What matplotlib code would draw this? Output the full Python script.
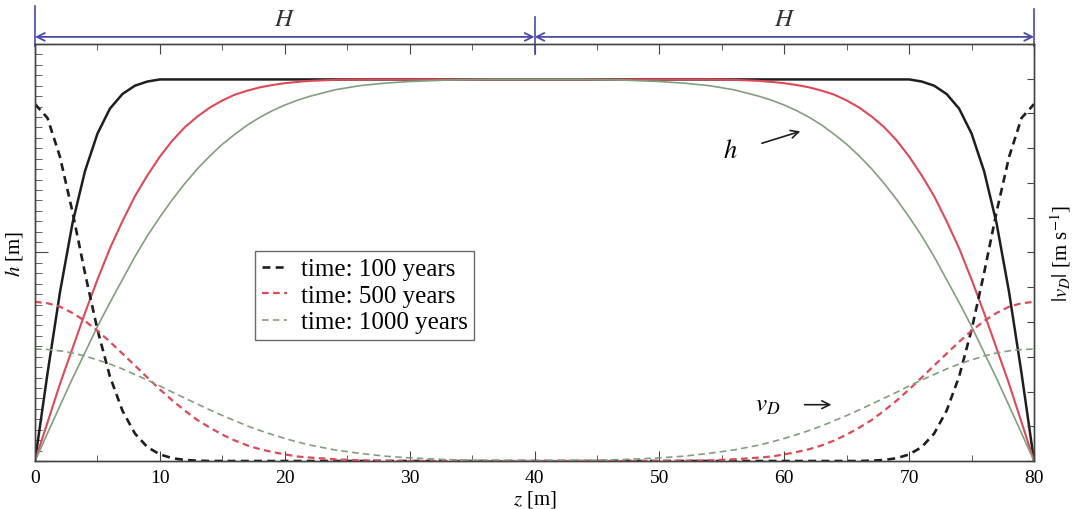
import numpy as np
import matplotlib
matplotlib.use("Agg")
import matplotlib.pyplot as plt
from matplotlib.ticker import MultipleLocator, NullFormatter

plt.rcParams['font.family'] = ['Liberation Serif', 'DejaVu Serif']
plt.rcParams['mathtext.fontset'] = 'stix'

# positions along the domain [m]
z = [0, 1, 2, 3, 4, 5, 6, 7, 8, 9, 10, 11, 12, 13, 14, 15, 16, 17, 18, 19, 20, 21,
     22, 24, 26, 28, 30, 33, 36, 40, 44, 47, 50, 52, 54, 56, 58,
     59, 60, 61, 62, 63, 64, 65, 66, 67, 68, 69, 70, 71, 72, 73, 74, 75, 76, 77, 78, 79, 80]

# head h (left axis)
h_100 = [0, 0.42, 0.81, 1.14, 1.39, 1.57, 1.69, 1.76, 1.80, 1.82, 1.83, 1.83, 1.83, 1.83, 1.83, 1.83, 1.83, 1.83, 1.83, 1.83, 1.83, 1.83,
         1.83, 1.83, 1.83, 1.83, 1.83, 1.83, 1.83, 1.83, 1.83, 1.83, 1.83, 1.83, 1.83, 1.83, 1.83,
         1.83, 1.83, 1.83, 1.83, 1.83, 1.83, 1.83, 1.83, 1.83, 1.83, 1.83, 1.83, 1.82, 1.80, 1.76, 1.69, 1.57, 1.39, 1.14, 0.81, 0.42, 0]
h_500 = [0, 0.185, 0.37, 0.54, 0.71, 0.87, 1.02, 1.15, 1.27, 1.37, 1.46, 1.537, 1.601, 1.652, 1.695, 1.729, 1.757, 1.776, 1.792, 1.803, 1.812, 1.818,
         1.823, 1.828, 1.83, 1.83, 1.83, 1.83, 1.83, 1.83, 1.83, 1.83, 1.83, 1.83, 1.83, 1.828, 1.823,
         1.818, 1.812, 1.803, 1.792, 1.776, 1.757, 1.729, 1.695, 1.652, 1.601, 1.537, 1.46, 1.37, 1.27, 1.15, 1.02, 0.87, 0.71, 0.54, 0.37, 0.185, 0]
h_1000 = [0, 0.133, 0.265, 0.396, 0.52, 0.645, 0.76, 0.87, 0.98, 1.08, 1.17, 1.254, 1.331, 1.401, 1.463, 1.519, 1.567, 1.611, 1.648, 1.680, 1.707, 1.730,
          1.749, 1.780, 1.800, 1.812, 1.820, 1.827, 1.830, 1.83, 1.830, 1.827, 1.820, 1.812, 1.800, 1.780, 1.749,
          1.730, 1.707, 1.680, 1.648, 1.611, 1.567, 1.519, 1.463, 1.401, 1.331, 1.254, 1.17, 1.08, 0.98, 0.87, 0.76, 0.645, 0.52, 0.396, 0.265, 0.133, 0]

# Darcy velocity |v_D| (right axis)
v_100 = [10.27, 9.87, 8.75, 7.17, 5.41, 3.78, 2.43, 1.45, 0.79, 0.40, 0.19, 0.08, 0.03, 0.01, 0, 0, 0, 0, 0, 0, 0, 0,
         0, 0, 0, 0, 0, 0, 0, 0, 0, 0, 0, 0, 0, 0, 0,
         0, 0, 0, 0, 0, 0, 0, 0, 0.01, 0.03, 0.08, 0.19, 0.40, 0.79, 1.45, 2.43, 3.78, 5.41, 7.17, 8.75, 9.87, 10.27]
v_500 = [4.58, 4.54, 4.44, 4.26, 4.03, 3.75, 3.43, 3.09, 2.75, 2.40, 2.06, 1.74, 1.45, 1.18, 0.96, 0.76, 0.59, 0.45, 0.34, 0.26, 0.19, 0.13,
         0.10, 0.05, 0.02, 0.01, 0, 0, 0, 0, 0, 0, 0, 0.01, 0.02, 0.05, 0.10,
         0.13, 0.19, 0.26, 0.34, 0.45, 0.59, 0.76, 0.96, 1.18, 1.45, 1.74, 2.06, 2.40, 2.75, 3.09, 3.43, 3.75, 4.03, 4.26, 4.44, 4.54, 4.58]
v_1000 = [3.22, 3.21, 3.17, 3.11, 3.02, 2.91, 2.79, 2.65, 2.49, 2.33, 2.16, 1.98, 1.81, 1.64, 1.47, 1.31, 1.16, 1.01, 0.88, 0.76, 0.65, 0.55,
          0.46, 0.32, 0.22, 0.14, 0.09, 0.04, 0.02, 0.01, 0.02, 0.04, 0.09, 0.14, 0.22, 0.32, 0.46,
          0.55, 0.65, 0.76, 0.88, 1.01, 1.16, 1.31, 1.47, 1.64, 1.81, 1.98, 2.16, 2.33, 2.49, 2.65, 2.79, 2.91, 3.02, 3.11, 3.17, 3.21, 3.22]

labels = ['time: 100 years', 'time: 500 years', 'time: 1000 years']
black = '#1e1e1e'
red = '#dc4a58'
green = '#819f7c'
blue = '#4a4aa8'

fig = plt.figure(figsize=(10.74, 5.10), dpi=100)
ax = fig.add_axes([0.0326, 0.0941, 0.9302, 0.8177])
ax2 = ax.twinx()

ax.plot(z, h_100, color=black, lw=1.8)
ax.plot(z, h_500, color=red, lw=1.5)
ax.plot(z, h_1000, color=green, lw=1.2)

ax2.plot(z, v_100, color=black, lw=1.9, dashes=(3, 2), label=labels[0])
ax2.plot(z, v_500, color=red, lw=1.6, dashes=(3, 2), label=labels[1])
ax2.plot(z, v_1000, color=green, lw=1.2, dashes=(4, 2.5), label=labels[2])

ax.set_xlim(0, 80)
ax.set_ylim(0, 2)
ax2.set_ylim(0, 12)

ax.xaxis.set_major_locator(MultipleLocator(10))
ax.xaxis.set_minor_locator(MultipleLocator(5))
ax.yaxis.set_major_locator(MultipleLocator(1))
ax.yaxis.set_minor_locator(MultipleLocator(0.05))
ax.yaxis.set_major_formatter(NullFormatter())
ax.tick_params(which='both', direction='in', top=True, right=False, color='#444444')
ax.tick_params(which='major', length=7, labelsize=14, pad=6)
ax.tick_params(which='minor', length=4)
ax.tick_params(axis='y', which='major', length=9)
ax.tick_params(axis='y', which='minor', length=5)

ax2.yaxis.set_major_locator(MultipleLocator(1))
ax2.yaxis.set_major_formatter(NullFormatter())
ax2.tick_params(direction='in', length=5, color='#444444')

for a in (ax, ax2):
    for s in a.spines.values():
        s.set_color('#444444')
        s.set_linewidth(1.0)

ax.set_xlabel('$z$ [m]', fontsize=15, labelpad=1)
ax.set_ylabel('$h$ [m]', fontsize=15, labelpad=1)
ax2.set_ylabel('$|v_D|$ [m s$^{-1}$]', fontsize=15, labelpad=7)

# H markers above the plot
ytop = 1.017
for x0, x1 in [(0, 40), (40, 80)]:
    ax.annotate('', xy=(x0, ytop), xytext=(x1, ytop), xycoords=('data', 'axes fraction'),
                arrowprops=dict(arrowstyle='<->', color=blue, lw=1.3, shrinkA=0, shrinkB=0,
                                mutation_scale=14), annotation_clip=False)
    ax.text((x0 + x1) / 2, 1.06, '$H$', transform=ax.get_xaxis_transform(),
            ha='center', va='center', fontsize=18, color='#333333')
for xv, y0, y1 in [(0, 0.995, 1.09), (40, 0.975, 1.065), (80, 0.995, 1.085)]:
    ax.plot([xv, xv], [y0, y1], color=blue, lw=1.2, transform=ax.get_xaxis_transform(), clip_on=False)

# curve labels
ax.annotate('', xy=(61.5, 1.585), xytext=(58.0, 1.52),
            arrowprops=dict(arrowstyle='->', color=black, lw=1.2, mutation_scale=14))
ax.text(55.7, 1.49, '$h$', fontsize=19, ha='center', va='center')
ax.annotate('', xy=(64.0, 0.27), xytext=(61.4, 0.27),
            arrowprops=dict(arrowstyle='->', color=black, lw=1.2, mutation_scale=14))
ax.text(58.7, 0.27, '$v_D$', fontsize=18, ha='center', va='center')

leg = ax2.legend(loc='upper left', bbox_to_anchor=(0.22, 0.504), borderaxespad=0,
                 fontsize=18, frameon=True, fancybox=False, handlelength=1.0,
                 handletextpad=0.55, labelspacing=0.16, borderpad=0.28)
leg.get_frame().set_edgecolor('#444444')
leg.get_frame().set_linewidth(1.0)

fig.savefig('out.png', dpi=100)
